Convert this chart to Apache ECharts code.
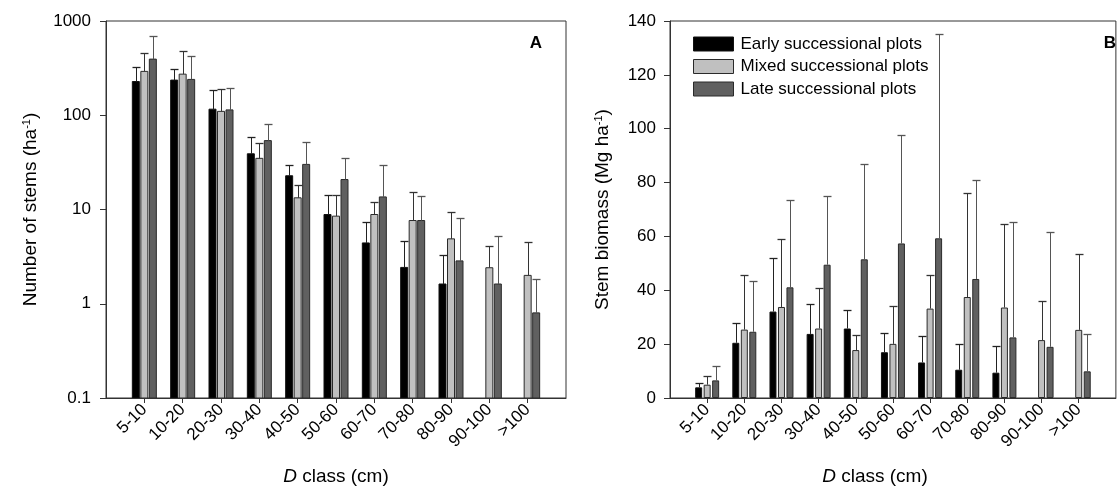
<!DOCTYPE html>
<html>
<head>
<meta charset="utf-8">
<script src="https://cdn.jsdelivr.net/npm/echarts@6/dist/echarts.min.js"></script>
<style>
html,body{margin:0;padding:0;background:#fff;}
#chart{width:1118px;height:495px;}
</style>
</head>
<body>
<div id="chart"></div>
<script>
// ---------- data ----------
const categories = ['5-10','10-20','20-30','30-40','40-50','50-60','60-70','70-80','80-90','90-100','>100'];
const seriesNames = ['Early successional plots','Mixed successional plots','Late successional plots'];

// Panel A: number of stems (ha-1), mean and upper error-bar limit
const earlyA   = [228, 236, 116, 39, 22.8, 8.85, 4.42, 2.43, 1.62, null, null];
const earlyAUp = [324, 309, 186, 58.7, 29.9, 14.1, 7.3, 4.6, 3.26, null, null];
const mixedA   = [292, 273, 110, 34.9, 13.3, 8.5, 8.85, 7.64, 4.88, 2.41, 2.0];
const mixedAUp = [460, 476, 192, 50.8, 18.0, 14.1, 12.0, 15.5, 9.46, 4.07, 4.49];
const lateA    = [394, 240, 114, 53.8, 30.1, 20.8, 13.6, 7.64, 2.85, 1.62, 0.80];
const lateAUp  = [692, 427, 195, 80, 52, 34.9, 29.6, 13.9, 8.08, 5.2, 1.85];

// Panel B: stem biomass (Mg ha-1), mean and upper error-bar limit
const earlyB   = [3.96, 20.5, 32.1, 23.8, 25.8, 17.0, 13.2, 10.5, 9.4, null, null];
const earlyBUp = [5.56, 27.9, 52, 34.9, 32.8, 24.2, 23.2, 19.9, 19.4, null, null];
const mixedB   = [4.94, 25.4, 33.8, 25.8, 17.8, 20.1, 33.2, 37.5, 33.6, 21.5, 25.3];
const mixedBUp = [8.27, 45.8, 59, 41, 23.3, 34.2, 45.7, 76, 64.8, 36, 53.4];
const lateB    = [6.54, 24.6, 41.1, 49.5, 51.5, 57.4, 59.3, 44.2, 22.5, 19, 9.9];
const lateBUp  = [11.85, 43.6, 73.5, 75, 86.9, 97.5, 135.2, 81, 65.2, 61.5, 23.7];

// axis ticks
const yTicksA = [0.1, 1, 10, 100, 1000];
const yTicksB = [0, 20, 40, 60, 80, 100, 120, 140];

// ---------- styling ----------
const FONT = '"Liberation Sans", Arial, sans-serif';
const fills = ['#000000', '#c0c0c0', '#606060'];
const strokes = ['#111111', '#2a2a2a', '#2a2a2a'];
const whisk = ['#222222', '#333333', '#555555'];
const BAR_W = 7;
const BAR_STEP = 8.5;
const A_MIN = yTicksA[0], A_MAX = yTicksA[yTicksA.length - 1];

// padded category axis: one empty slot at each end
const axisCats = [''].concat(categories, ['']);

function pairs(vals) {
  const out = [];
  vals.forEach((v, i) => { if (v != null) out.push([categories[i], v]); });
  return out;
}
function triples(vals, ups) {
  const out = [];
  vals.forEach((v, i) => { if (v != null) out.push([categories[i], v, ups[i]]); });
  return out;
}

function barRenderer(k, minVal) {
  return function (params, api) {
    const x = api.value(0), v = api.value(1);
    const top = api.coord([x, v]);
    const base = api.coord([x, minVal]);
    const cx = top[0] + (k - 1) * BAR_STEP;
    return {
      type: 'rect',
      shape: { x: cx - BAR_W / 2, y: top[1], width: BAR_W, height: base[1] - top[1] },
      style: { fill: fills[k], stroke: strokes[k], lineWidth: 1 }
    };
  };
}
function errRenderer(k) {
  return function (params, api) {
    const x = api.value(0), v = api.value(1), up = api.value(2);
    const p0 = api.coord([x, v]);
    const p1 = api.coord([x, up]);
    const cx = Math.round(p0[0] + (k - 1) * BAR_STEP) + 0.5;
    const y1 = Math.round(p1[1]) + 0.5;
    return {
      type: 'group',
      children: [
        { type: 'line', shape: { x1: cx, y1: p0[1], x2: cx, y2: y1 }, style: { stroke: whisk[k], lineWidth: 1 } },
        { type: 'line', shape: { x1: cx - 4, y1: y1, x2: cx + 4, y2: y1 }, style: { stroke: whisk[k], lineWidth: 1.3 } }
      ]
    };
  };
}

const tickFilter = (idx, val) => val !== '';

function xAxisDef(gridIndex, nameShiftRight) {
  return {
    type: 'category', gridIndex: gridIndex, data: axisCats, boundaryGap: false,
    axisLine: { lineStyle: { color: '#333', width: 1 } },
    axisTick: { show: true, interval: tickFilter, length: 5, lineStyle: { color: '#333' } },
    axisLabel: { interval: 0, rotate: 45, margin: 9, fontFamily: FONT, fontSize: 17, color: '#000' },
    name: '{i|D} class (cm)', nameLocation: 'middle', nameGap: 69,
    nameTextStyle: {
      fontFamily: FONT, fontSize: 19, color: '#000',
      padding: [0, nameShiftRight, 0, 0],
      rich: { i: { fontFamily: FONT, fontSize: 19, fontStyle: 'italic', color: '#000' } }
    }
  };
}

const supRich = { sup: { fontFamily: FONT, fontSize: 11, color: '#000', verticalAlign: 'top', padding: [0, 0, 9, 0] } };

const chart = echarts.init(document.getElementById('chart'), null, { renderer: 'canvas' });

const series = [];
const meansA = [earlyA, mixedA, lateA], upsA = [earlyAUp, mixedAUp, lateAUp];
const meansB = [earlyB, mixedB, lateB], upsB = [earlyBUp, mixedBUp, lateBUp];

for (let k = 0; k < 3; k++) {
  series.push({
    type: 'custom', name: 'A ' + seriesNames[k], xAxisIndex: 0, yAxisIndex: 0,
    renderItem: barRenderer(k, A_MIN), data: pairs(meansA[k]), z: 2, clip: true
  });
}
for (let k = 0; k < 3; k++) {
  series.push({
    type: 'custom', name: 'A err ' + k, xAxisIndex: 0, yAxisIndex: 0,
    renderItem: errRenderer(k), data: triples(meansA[k], upsA[k]), z: 3
  });
}
for (let k = 0; k < 3; k++) {
  series.push({
    type: 'bar', name: seriesNames[k], xAxisIndex: 1, yAxisIndex: 1,
    data: meansB[k].map((v, i) => v == null ? null : [categories[i], v]),
    barWidth: BAR_W, barGap: ((BAR_STEP / BAR_W - 1) * 100).toFixed(1) + '%',
    itemStyle: { color: fills[k], borderColor: strokes[k], borderWidth: 1 },
    emphasis: { disabled: true }, z: 2
  });
}
for (let k = 0; k < 3; k++) {
  series.push({
    type: 'custom', name: 'B err ' + k, xAxisIndex: 1, yAxisIndex: 1,
    renderItem: errRenderer(k), data: triples(meansB[k], upsB[k]), z: 3
  });
}

const option = {
  animation: false,
  backgroundColor: '#fff',
  textStyle: { fontFamily: FONT },
  grid: [
    { left: 106, top: 21, width: 460, height: 377, show: true, borderColor: '#333', borderWidth: 1, containLabel: false },
    { left: 670, top: 21, width: 460, height: 377, show: true, borderColor: '#333', borderWidth: 1, containLabel: false }
  ],
  legend: {
    data: seriesNames.map((n, k) => ({ name: n, icon: 'rect', itemStyle: { color: fills[k], borderColor: strokes[k], borderWidth: 1 } })),
    orient: 'vertical', left: 688, top: 29,
    itemWidth: 40, itemHeight: 14, itemGap: 2.5,
    textStyle: { fontFamily: FONT, fontSize: 17, color: '#000', lineHeight: 20, padding: [0, 0, 0, 2] },
    selectedMode: false
  },
  xAxis: [xAxisDef(0, 0), xAxisDef(1, 36)],
  yAxis: [
    {
      type: 'log', gridIndex: 0, logBase: 10, min: A_MIN, max: A_MAX, interval: 1,
      axisLine: { show: true, lineStyle: { color: '#333' } },
      axisTick: { show: true, length: 6, lineStyle: { color: '#333' } },
      minorTick: { show: false },
      splitLine: { show: false },
      axisLabel: { fontFamily: FONT, fontSize: 17, color: '#000', margin: 15,
        formatter: v => String(yTicksA.find(t => Math.abs(Math.log10(t) - Math.log10(v)) < 1e-6) ?? v) },
      name: 'Number of stems (ha{sup|-1})', nameLocation: 'middle', nameGap: 65,
      nameTextStyle: { fontFamily: FONT, fontSize: 19, color: '#000', rich: supRich }
    },
    {
      type: 'value', gridIndex: 1, min: yTicksB[0], max: yTicksB[yTicksB.length - 1], interval: 20,
      axisLine: { show: true, lineStyle: { color: '#333' } },
      axisTick: { show: true, length: 6, lineStyle: { color: '#333' } },
      splitLine: { show: false },
      axisLabel: { fontFamily: FONT, fontSize: 17, color: '#000', margin: 14 },
      name: 'Stem biomass (Mg ha{sup|-1})', nameLocation: 'middle', nameGap: 57,
      nameTextStyle: { fontFamily: FONT, fontSize: 19, color: '#000', rich: supRich }
    }
  ],
  graphic: [
    { type: 'text', right: 1118 - 542, top: 35, style: { text: 'A', font: 'bold 17px ' + FONT, fill: '#000' } },
    { type: 'text', right: 2, top: 35, style: { text: 'B', font: 'bold 17px ' + FONT, fill: '#000' } }
  ],
  series: series
};
chart.setOption(option);
</script>
</body>
</html>
